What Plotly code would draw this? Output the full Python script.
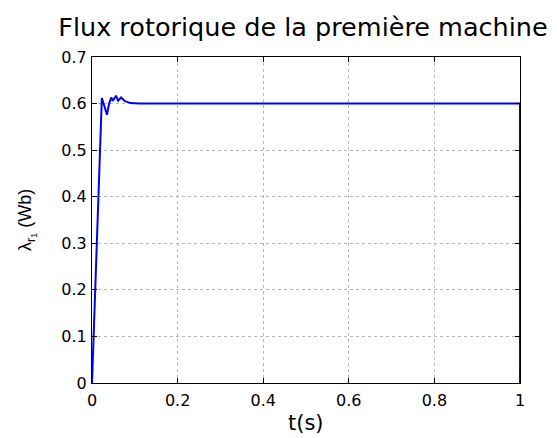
import plotly.graph_objects as go

t_vals = [0.0, 0.005, 0.010, 0.015, 0.018, 0.020, 0.023, 0.027, 0.031, 0.035, 0.040, 0.045, 0.049, 0.056, 0.061, 0.068, 0.077, 0.090, 0.110, 0.200, 0.400, 0.600, 0.800, 0.9999, 1.0]
flux_vals = [0.0, 0.14, 0.29, 0.43, 0.517, 0.57, 0.612, 0.600, 0.585, 0.576, 0.600, 0.613, 0.606, 0.617, 0.606, 0.613, 0.605, 0.601, 0.600, 0.600, 0.600, 0.600, 0.600, 0.600, 0.0]

x_ticks = [0, 0.2, 0.4, 0.6, 0.8, 1]
x_labels = ["0", "0.2", "0.4", "0.6", "0.8", "1"]
y_ticks = [0, 0.1, 0.2, 0.3, 0.4, 0.5, 0.6, 0.7]
y_labels = ["0", "0.1", "0.2", "0.3", "0.4", "0.5", "0.6", "0.7"]

fig = go.Figure()
fig.add_trace(go.Scatter(x=t_vals, y=flux_vals, mode="lines",
                         line=dict(color="#0000ff", width=2), showlegend=False))

wide = "DejaVu Sans, Verdana, sans-serif"
narrow = "Liberation Sans, Arial, sans-serif"
axis_common = dict(showline=True, linecolor="black", linewidth=1, mirror="allticks",
                   ticks="inside", ticklen=5, tickcolor="black",
                   showgrid=True, gridcolor="#b8b8b8", griddash="dot", gridwidth=1,
                   zeroline=False, tickfont=dict(family=wide, size=16, color="black"))

fig.update_layout(
    width=557, height=438,
    paper_bgcolor="white", plot_bgcolor="white",
    margin=dict(l=84, r=45, t=49, b=63),
    title=dict(text="Flux rotorique de la première machine", x=0.5296, xanchor="center",
               y=0.957, yanchor="middle", font=dict(family=wide, size=25.5, color="black")),
    xaxis=dict(range=[0, 1], tickvals=x_ticks, ticktext=x_labels, ticklabelstandoff=3,
               **axis_common),
    yaxis=dict(range=[0, 0.7], tickvals=y_ticks, ticktext=y_labels, ticklabelstandoff=1,
               **axis_common),
    annotations=[
        dict(text="t(s)", xref="paper", yref="paper", x=0.5, y=-0.1227,
             xanchor="center", yanchor="middle", showarrow=False,
             font=dict(family=wide, size=21, color="black")),
        dict(text="λ<sub>r<sub>1</sub></sub> (Wb)", xref="paper", yref="paper", x=-0.152, y=0.5,
             xanchor="center", yanchor="middle", showarrow=False, textangle=-90,
             font=dict(family=narrow, size=18, color="black")),
    ],
)

fig.write_html("out.html")
